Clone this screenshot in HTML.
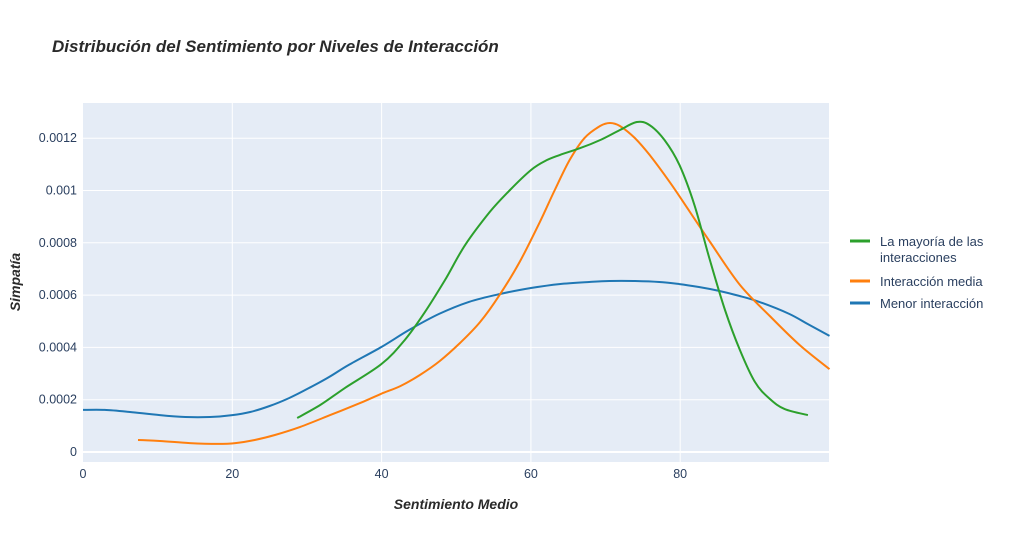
<!DOCTYPE html>
<html><head><meta charset="utf-8"><style>
body{margin:0;background:#fff;font-family:"Liberation Sans","DejaVu Sans",sans-serif}
</style></head><body>
<svg id="c" width="1024" height="546" xmlns="http://www.w3.org/2000/svg">
<text x="52" y="52" font-size="17" font-weight="bold" font-style="italic" fill="#2a2a2a">Distribución del Sentimiento por Niveles de Interacción</text>
<rect x="83" y="103" width="746" height="359" fill="#e5ecf6"/>
<g id="grid"></g><g id="series"></g><g id="ticks"></g>
<text x="456" y="509" text-anchor="middle" font-size="14" font-weight="bold" font-style="italic" fill="#2a2a2a">Sentimiento Medio</text>
<text transform="translate(20,282) rotate(-90)" text-anchor="middle" font-size="14" font-weight="bold" font-style="italic" fill="#2a2a2a">Simpatía</text>
<g font-size="13" fill="#2a3f5f">
<g><line x1="850" x2="870" y1="241" y2="241" stroke="#2ca02c" stroke-width="3"/><text x="880" y="246">La mayoría de las</text><text x="880" y="262">interacciones</text></g>
<g><line x1="850" x2="870" y1="281" y2="281" stroke="#ff7f0e" stroke-width="3"/><text x="880" y="286">Interacción media</text></g>
<g><line x1="850" x2="870" y1="303" y2="303" stroke="#1f77b4" stroke-width="3"/><text x="880" y="308">Menor interacción</text></g>
</g>
</svg>
<script>
const xTicks=[0,20,40,60,80];
const yTicks=[0,0.0002,0.0004,0.0006,0.0008,0.001,0.0012];
const yTickLabels=["0","0.0002","0.0004","0.0006","0.0008","0.001","0.0012"];
const blueX=[0,2.9,6.3,10.3,13.7,17,20,22.4,25,27.6,30.3,33,35.6,40,43.7,47.7,51.7,55.8,60,63.8,67.8,70.5,73.8,77.2,79.9,82.5,85.2,87.9,90.6,94.6,97.3,100];
const blueY=[1.61,1.61,1.53,1.41,1.34,1.34,1.41,1.53,1.76,2.06,2.45,2.87,3.33,4.02,4.67,5.28,5.74,6.04,6.27,6.42,6.50,6.54,6.54,6.50,6.42,6.31,6.16,5.97,5.74,5.28,4.86,4.44];
const orangeX=[7.37,10.3,14.3,18.1,20.4,23,25.7,29.1,33.1,37.1,39.9,42.5,45.1,47.8,50.5,53.2,55.8,58.5,61.2,63.2,65.2,67.2,69.3,70.6,71.9,73.9,75.9,78.6,81.3,84,88,92,96,100];
const orangeY=[0.46,0.42,0.34,0.31,0.34,0.46,0.65,0.96,1.41,1.87,2.22,2.52,2.94,3.48,4.17,4.97,6.0,7.27,8.8,10.02,11.17,12.01,12.47,12.58,12.47,12.01,11.36,10.32,9.18,8.03,6.39,5.2,4.09,3.17];
const greenX=[28.7,31.8,35.1,40,43.1,45.8,48.5,51.2,54.5,57.2,60,61.9,63.9,66.6,69.3,71.9,74.2,75.9,77.9,79.9,81.9,83.9,86,88,90,92,94,97.1];
const greenY=[1.30,1.80,2.45,3.37,4.28,5.35,6.58,7.92,9.18,10.02,10.78,11.13,11.36,11.62,11.93,12.31,12.62,12.5,11.93,10.97,9.45,7.42,5.43,3.9,2.68,2.03,1.64,1.41];
const NS="http://www.w3.org/2000/svg";
const X=v=>83+v*7.465;
const Y=v=>452-v/0.0002*52.3;
function mk(t,a,p){const e=document.createElementNS(NS,t);for(const k in a)e.setAttribute(k,a[k]);p.appendChild(e);return e;}
const grid=document.getElementById('grid'),ticks=document.getElementById('ticks'),ser=document.getElementById('series');
xTicks.forEach(v=>{
 const l=mk('line',{x1:X(v),x2:X(v),y1:103,y2:462,stroke:'#fff','stroke-width':v===0?0:1},grid);
 
 
 const t=mk('text',{x:X(v),y:478,'text-anchor':'middle','font-size':12.5,fill:'#2a3f5f'},ticks);
 t.textContent=v;
 
 
});
yTicks.forEach((v,i)=>{
 const l=mk('line',{x1:83,x2:829,y1:Y(v),y2:Y(v),stroke:'#fff','stroke-width':v===0?2:1},grid);
 
 
 const t=mk('text',{x:77,y:Y(v)+4,'text-anchor':'end','font-size':12.5,fill:'#2a3f5f'},ticks);
 t.textContent=yTickLabels[i];
 
 
});
function line(xs,ys,col,name){
 const P=xs.map((x,i)=>[X(x),Y(ys[i]*1e-4)]);
 let d='M'+P[0][0].toFixed(1)+','+P[0][1].toFixed(1);
 for(let i=0;i<P.length-1;i++){
  const p0=P[i-1]||P[i],p1=P[i],p2=P[i+1],p3=P[i+2]||P[i+1];
  const c1=[p1[0]+(p2[0]-p0[0])/6,p1[1]+(p2[1]-p0[1])/6];
  const c2=[p2[0]-(p3[0]-p1[0])/6,p2[1]-(p3[1]-p1[1])/6];
  d+='C'+c1.map(v=>v.toFixed(1))+' '+c2.map(v=>v.toFixed(1))+' '+p2.map(v=>v.toFixed(1));
 }
 const p=mk('path',{d:d,fill:'none',stroke:col,'stroke-width':2,'stroke-linejoin':'round'},ser);
 
 
}
line(blueX,blueY,'#1f77b4','line-menor-interaccion');
line(orangeX,orangeY,'#ff7f0e','line-interaccion-media');
line(greenX,greenY,'#2ca02c','line-mayoria-interacciones');
</script>
</body></html>
